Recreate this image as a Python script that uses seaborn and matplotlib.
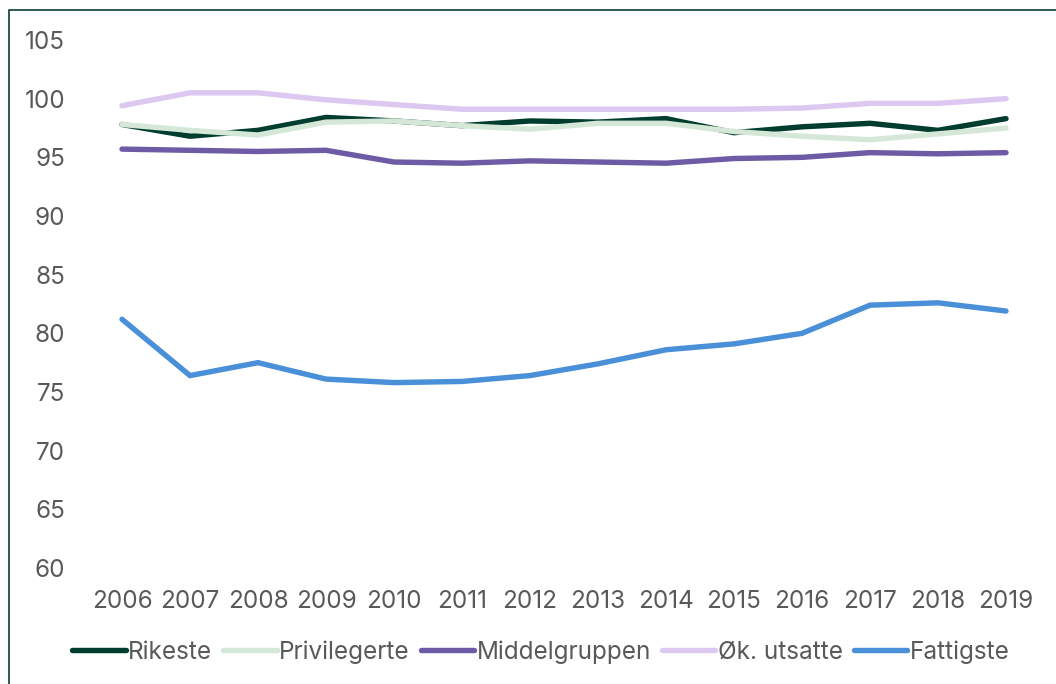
import matplotlib
matplotlib.use("Agg")
import matplotlib.pyplot as plt
import seaborn as sns
import pandas as pd
from matplotlib.patches import Rectangle
from matplotlib.lines import Line2D

years = [2006, 2007, 2008, 2009, 2010, 2011, 2012, 2013, 2014, 2015, 2016, 2017, 2018, 2019]
rikeste = [97.8, 96.8, 97.3, 98.4, 98.1, 97.7, 98.1, 98.0, 98.3, 97.1, 97.6, 97.9, 97.3, 98.3]
privilegerte = [97.8, 97.3, 96.9, 98.0, 98.1, 97.7, 97.4, 97.9, 97.9, 97.2, 96.8, 96.5, 97.0, 97.5]
middelgruppen = [95.7, 95.6, 95.5, 95.6, 94.6, 94.5, 94.7, 94.6, 94.5, 94.9, 95.0, 95.4, 95.3, 95.4]
ok_utsatte = [99.4, 100.5, 100.5, 99.9, 99.5, 99.1, 99.1, 99.1, 99.1, 99.1, 99.2, 99.6, 99.6, 100.0]
fattigste = [81.2, 76.4, 77.5, 76.1, 75.8, 75.9, 76.4, 77.4, 78.6, 79.1, 80.0, 82.4, 82.6, 81.9]

series_names = ["Rikeste", "Privilegerte", "Middelgruppen", "Øk. utsatte", "Fattigste"]
series_values = [rikeste, privilegerte, middelgruppen, ok_utsatte, fattigste]
colors = ["#003D2E", "#D5E8D8", "#6E5BA5", "#DCC8F0", "#4A90D9"]
yticks = [60, 65, 70, 75, 80, 85, 90, 95, 100, 105]

rows = []
for name, vals in zip(series_names, series_values):
    for i, (y, v) in enumerate(zip(years, vals)):
        rows.append({"idx": i, "year": str(y), "serie": name, "verdi": v})
df = pd.DataFrame(rows)

sns.set_theme(style="white")
plt.rcParams['font.family'] = ['Inter', 'DejaVu Sans']

FS = 17.5
fig = plt.figure(figsize=(10.56, 6.84), dpi=100)
ax = fig.add_axes([88/1056, 1 - 568/684, (1040 - 88)/1056, (568 - 40)/684])

sns.lineplot(data=df, x="idx", y="verdi", hue="serie", hue_order=series_names,
             palette=colors, linewidth=3.9, ax=ax, legend=False,
             solid_capstyle="round", solid_joinstyle="miter")

ax.set_xlim(-0.5, len(years) - 0.5)
ax.set_ylim(60, 105)
ax.set_yticks(yticks)
ax.set_yticklabels([str(t) for t in yticks])
ax.set_xticks(range(len(years)))
ax.set_xticklabels([str(y) for y in years])
ax.set_xlabel("")
ax.set_ylabel("")
for s in ax.spines.values():
    s.set_visible(False)
ax.grid(False)
ax.tick_params(axis="both", length=0, labelsize=FS, labelcolor="#595959")
ax.tick_params(axis="y", pad=16.5)
ax.tick_params(axis="x", pad=16)

handles = [Line2D([0], [0], color=c, lw=3.9, solid_capstyle="round") for c in colors]
fig.legend(handles, series_names, loc="center", bbox_to_anchor=(541/1056, 1 - 652/684),
           ncol=5, frameon=False, fontsize=FS, handlelength=2.2, handletextpad=0.1,
           columnspacing=0.45, labelcolor="#595959")

fig.patches.append(Rectangle((9/1056, -0.2), 2.0, 1 - 10/684 + 0.2, transform=fig.transFigure,
                             fill=False, edgecolor="#0B3D33", linewidth=1.2))

fig.savefig("out.png", dpi=100)
